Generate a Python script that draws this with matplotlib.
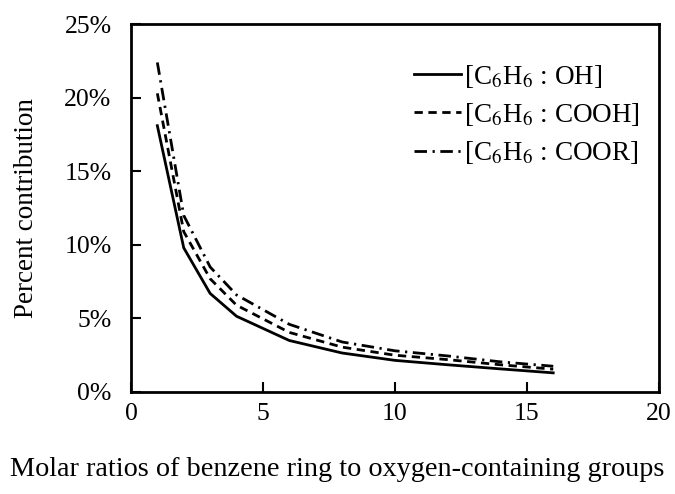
import matplotlib
matplotlib.use("Agg")
import matplotlib.pyplot as plt
from matplotlib.ticker import FuncFormatter

plt.rcParams['font.family'] = ['Liberation Serif', 'DejaVu Serif']
plt.rcParams['mathtext.fontset'] = 'stix'

# molar ratio of benzene ring to O-containing group
ratio = [1, 2, 3, 4, 6, 8, 10, 12, 14, 16]

# percent contribution (%)
oh = [18.1, 9.8, 6.7, 5.15, 3.5, 2.65, 2.15, 1.85, 1.57, 1.3]
cooh = [20.3, 10.9, 7.7, 5.9, 4.05, 3.05, 2.5, 2.2, 1.85, 1.55]
coor = [22.4, 12.0, 8.5, 6.6, 4.6, 3.4, 2.8, 2.45, 2.05, 1.75]

labels = ['[C$_6$H$_6$ : OH]', '[C$_6$H$_6$ : COOH]', '[C$_6$H$_6$ : COOR]']

fig = plt.figure(figsize=(6.75, 4.94), dpi=100)
ax = fig.add_axes([0.194, 0.2065, 0.782, 0.7445])

ax.plot(ratio, oh, color='black', lw=2.0, label=labels[0])
ax.plot(ratio, cooh, color='black', lw=2.0, linestyle=(0, (3, 2)), label=labels[1])
ax.plot(ratio, coor, color='black', lw=2.0, linestyle=(0, (4.5, 2, 0.8, 2)), label=labels[2])

ax.set_xlim(0, 20)
ax.set_ylim(0, 25)
ax.set_xticks([0, 5, 10, 15, 20])
ax.set_yticks([0, 5, 10, 15, 20, 25])
ax.yaxis.set_major_formatter(FuncFormatter(lambda v, p: f"{v:.0f}%"))

ax.tick_params(direction='in', length=7, width=1.5, labelsize=18.5)
ax.tick_params(axis='y', pad=14)
ax.tick_params(axis='x', pad=8)
for s in ax.spines.values():
    s.set_linewidth(2.0)

ax.set_ylabel('Percent contribution', fontsize=19.5)
ax.yaxis.set_label_coords(-0.175, 0.5)
fig.text(0.5, 0.05, 'Molar ratios of benzene ring to oxygen-containing groups',
         ha='center', va='center', fontsize=20.3)

ax.legend(loc='upper right', frameon=False, fontsize=19.5, handlelength=1.75,
          handletextpad=0.1, labelspacing=0.42, borderaxespad=0.2,
          bbox_to_anchor=(0.995, 0.94))

fig.savefig('out.png', dpi=100)
